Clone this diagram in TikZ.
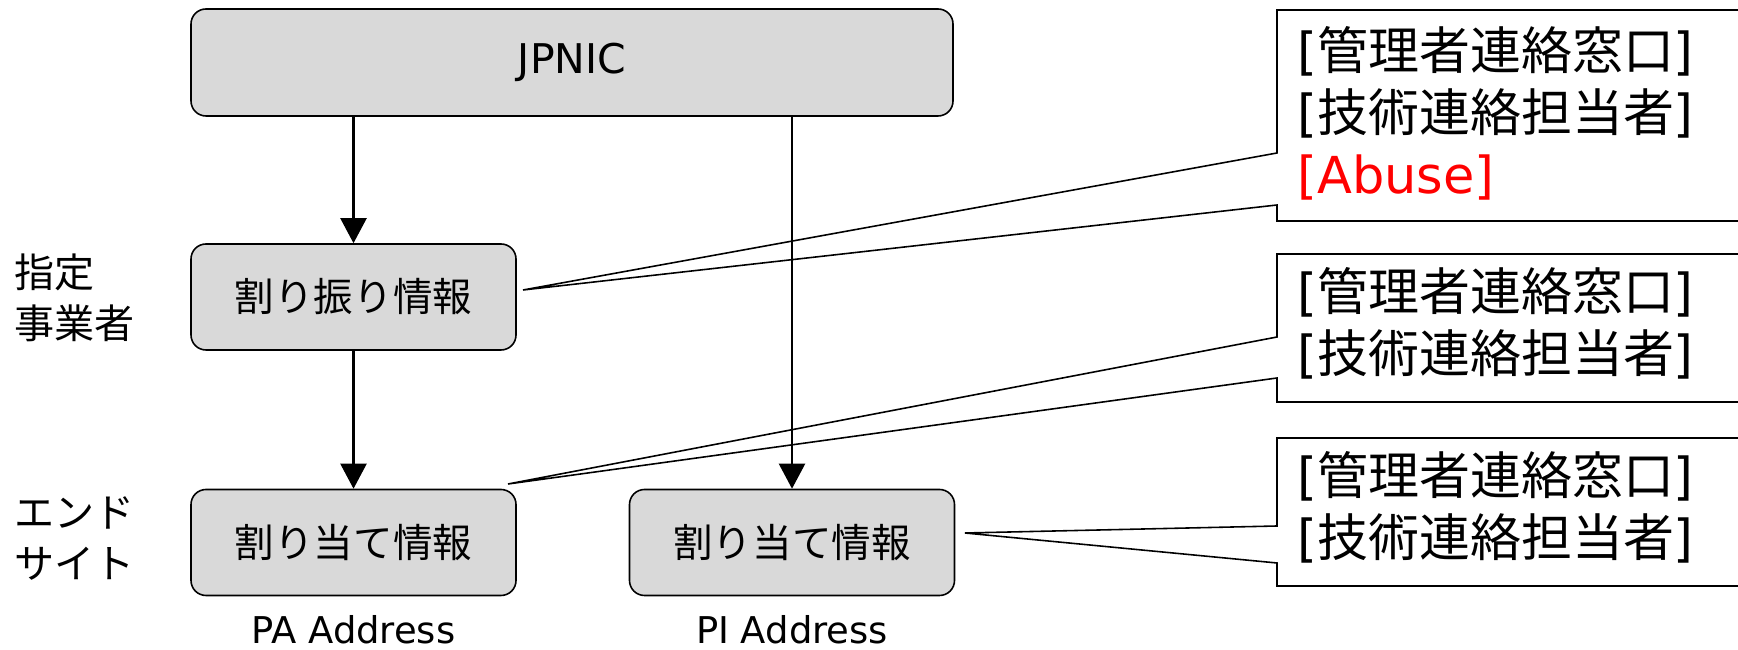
\documentclass[tikz,border=0pt]{standalone}
\usepackage{fontspec}
\setmainfont{DejaVu Sans}
\newfontfamily\jp{Noto Sans CJK JP}
\usetikzlibrary{arrows.meta}
\definecolor{boxgray}{HTML}{D9D9D9}

\begin{document}
\begin{tikzpicture}[
  infobox/.style={draw=black, line width=0.9pt, fill=boxgray, rounded corners=0.3cm,
    minimum height=2.12cm, minimum width=6.5cm, inner sep=0pt,
    font=\jp\fontsize{22.5}{27}\selectfont},
  arr/.style={-{Triangle[length=0.5cm,width=0.52cm]}, line width=1.3pt},
  callout/.style={draw=black, line width=0.9pt},
  contact/.style={anchor=west, align=left, inner sep=0pt, font=\fontsize{29}{35.3}\selectfont},
  rowlabel/.style={anchor=west, align=left, inner sep=0pt, font=\jp\fontsize{22.8}{29}\selectfont},
  addr/.style={anchor=base, inner sep=0pt, font=\fontsize{21}{25}\selectfont}
]
\useasboundingbox (0,0) rectangle (34.76,13);
\clip (0,0) rectangle (34.76,13);

% Boxes
  \node[infobox, minimum width=15.24cm, minimum height=2.14cm, font=\fontsize{23.3}{28}\selectfont] (jpnic) at (11.44,11.75) {JPNIC};
  \node[infobox] (alloc) at (7.07,7.06) {割り振り情報};
  \node[infobox] (assignpa) at (7.07,2.15) {割り当て情報};
  \node[infobox] (assignpi) at (15.84,2.15) {割り当て情報};

% Arrows
  \draw[arr] (alloc.north |- jpnic.south) -- (alloc.north);
  \draw[arr] (alloc.south) -- (assignpa.north);
  \draw[arr] (assignpi.north |- jpnic.south) -- (assignpi.north);

% Row labels and address types
  \node[rowlabel] (lblisp) at (0.28,7.04) {指定\\事業者};
  \node[rowlabel] (lblend) at (0.28,2.23) {エンド\\サイト};
  \node[addr] (addrpa) at (7.07,0.12) {PA Address};
  \node[addr] (addrpi) at (15.84,0.12) {PI Address};

% Callouts
  \coordinate (tip1) at (10.46,7.20);
  \coordinate (tip2) at (10.16,3.32);
  \coordinate (tip3) at (19.30,2.34);

  \draw[callout] (25.54,9.94) -- (tip1) -- (25.54,8.90) |- (36,8.58) |- (25.54,12.80) -- cycle;
  \draw[callout] (25.54,6.26) -- (tip2) -- (25.54,5.44) |- (36,4.96) |- (25.54,7.92) -- cycle;
  \draw[callout] (25.54,2.48) -- (tip3) -- (25.54,1.74) |- (36,1.28) |- (25.54,4.24) -- cycle;

  \node[contact] (contact1) at (25.94,10.73) {{[}{\jp 管理者連絡窓口}]\\{[}{\jp 技術連絡担当者}]\\\textcolor{red}{[Abuse]}};
  \node[contact] (contact2) at (25.94,6.54) {{[}{\jp 管理者連絡窓口}]\\{[}{\jp 技術連絡担当者}]};
  \node[contact] (contact3) at (25.94,2.85) {{[}{\jp 管理者連絡窓口}]\\{[}{\jp 技術連絡担当者}]};

\end{tikzpicture}
\end{document}
